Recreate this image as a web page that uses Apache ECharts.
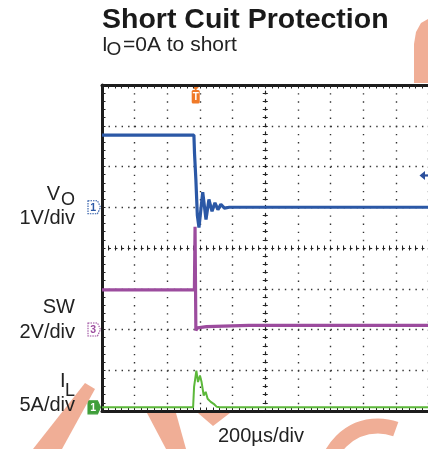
<!DOCTYPE html>
<html><head><meta charset="utf-8">
<script src="https://cdn.jsdelivr.net/npm/echarts@6/dist/echarts.min.js"></script>
<style>html,body{margin:0;padding:0;background:#fff}#c{width:428px;height:449px}</style>
</head><body><div id="c"></div>
<script>
// ---- data (time in µs, 200 µs/div) ----
const timeMin = 0, timeMax = 2000, timeStep = 200;
const divMin = -4, divMax = 4, divStep = 1;

const voTime  = [0, 563, 567, 575, 584, 594, 617, 637, 655, 674, 692, 710, 728, 750, 780, 2000];
const voVolts = [1.77, 1.77, 1.30, 0.68, -0.20, -0.50, 0.37, -0.30, 0.19, -0.10, 0.11, -0.06, 0.07, -0.02, 0, 0];

const swTime  = [0, 566, 568, 570, 575, 585, 640, 900, 2000];
const swVolts = [1.94, 1.94, 3.60, 5.04, -0.05, 0.08, 0.14, 0.20, 0.20];

const ilTime  = [0, 558, 564, 578, 588, 600, 610, 623, 635, 647, 666, 684, 703, 721, 2000];
const ilAmps  = [0, 0, 2.5, 4.5, 3.1, 3.9, 3.1, 1.45, 1.9, 1.05, 0.67, 0.43, 0.06, 0, 0];

// channel settings: units per division and ground position (divisions from centre)
const voPerDiv = 1, voGround = 1;
const swPerDiv = 2, swGround = -2;
const ilPerDiv = 5, ilGround = -3.91;
const triggerTime = 574;       // µs
const triggerLevel = 0.78;     // V on CH1

// ---- chart ----
const FONT = "'Liberation Sans', Arial, Helvetica, sans-serif";
const toDiv = (ts, vs, perDiv, ground) => ts.map((t, i) => [t, vs[i] / perDiv + ground]);

const chart = echarts.init(document.getElementById('c'), null, {renderer: 'canvas'});
const GRID = {left: 102, top: 85, width: 326.5, height: 326};
const hPeriod = GRID.width / 10 / 5, vPeriod = GRID.height / 8 / 5;
const dotColor = '#333';
const borderStyle = {color: '#1c1c1c', width: 3};
const WM = '#f0ae96';

function xAx(extra) {
  return Object.assign({
    type: 'value', min: timeMin, max: timeMax, interval: timeStep,
    axisLabel: {show: false}, splitLine: {show: false},
    axisLine: {show: true, onZero: false, lineStyle: borderStyle},
    axisTick: {show: true, inside: true, length: 3.5, lineStyle: {color: '#222', width: 1}},
    minorTick: {show: true, splitNumber: 5, length: 3.5, lineStyle: {color: '#222', width: 1}}
  }, extra);
}
function yAx(extra) {
  return Object.assign({
    type: 'value', min: divMin, max: divMax, interval: divStep,
    axisLabel: {show: false}, splitLine: {show: false},
    axisLine: {show: true, onZero: false, lineStyle: borderStyle},
    axisTick: {show: true, inside: true, length: 3.5, lineStyle: {color: '#222', width: 1}},
    minorTick: {show: true, splitNumber: 5, length: 3.5, lineStyle: {color: '#222', width: 1}}
  }, extra);
}
const centreH = {color: '#222', width: 1.2, type: [2, hPeriod - 2]};
const centreV = {color: '#222', width: 1.2, type: [2, vPeriod - 2]};

chart.setOption({
  animation: false,
  backgroundColor: '#fff',
  grid: Object.assign({outerBoundsMode: 'none', containLabel: false}, GRID),
  xAxis: [
    xAx({position: 'bottom', splitLine: {show: true, lineStyle: {color: dotColor, width: 1.4, type: [1.4, vPeriod - 1.4]}}}),
    xAx({position: 'top'}),
    xAx({position: 'bottom', offset: -GRID.height / 2, axisLine: {show: true, onZero: false, lineStyle: centreH},
         axisTick: {show: true, inside: true, length: 2.5, lineStyle: {color: '#222'}}, minorTick: {show: true, splitNumber: 5, length: 2.5, lineStyle: {color: '#222'}}}),
    xAx({position: 'bottom', offset: -GRID.height / 2, axisLine: {show: false},
         axisTick: {show: true, inside: false, length: 2.5, lineStyle: {color: '#222'}}, minorTick: {show: true, splitNumber: 5, length: 2.5, lineStyle: {color: '#222'}}})
  ],
  yAxis: [
    yAx({position: 'left', splitLine: {show: true, lineStyle: {color: dotColor, width: 1.4, type: [1.4, hPeriod - 1.4]}}}),
    yAx({position: 'left', offset: -GRID.width / 2, axisLine: {show: true, onZero: false, lineStyle: centreV},
         axisTick: {show: true, inside: true, length: 2.5, lineStyle: {color: '#222'}}, minorTick: {show: true, splitNumber: 5, length: 2.5, lineStyle: {color: '#222'}}}),
    yAx({position: 'left', offset: -GRID.width / 2, axisLine: {show: false},
         axisTick: {show: true, inside: false, length: 2.5, lineStyle: {color: '#222'}}, minorTick: {show: true, splitNumber: 5, length: 2.5, lineStyle: {color: '#222'}}})
  ],
  series: [
    {name: 'VO', type: 'line', xAxisIndex: 0, yAxisIndex: 0, showSymbol: false, z: 4,
     lineStyle: {color: '#2b58a6', width: 3.2}, data: toDiv(voTime, voVolts, voPerDiv, voGround)},
    {name: 'SW', type: 'line', xAxisIndex: 0, yAxisIndex: 0, showSymbol: false, z: 3,
     lineStyle: {color: '#9c4c9e', width: 3.2}, data: toDiv(swTime, swVolts, swPerDiv, swGround)},
    {name: 'IL', type: 'line', xAxisIndex: 0, yAxisIndex: 0, showSymbol: false, z: 5,
     lineStyle: {color: '#5cb83a', width: 2}, data: toDiv(ilTime, ilAmps, ilPerDiv, ilGround)}
  ]
});

function px(t, d) { return chart.convertToPixel({xAxisIndex: 0, yAxisIndex: 0}, [t, d]); }
function txt(text, x, y, size, opts) {
  return {type: 'text', z: 50, style: Object.assign({text: text, x: x, y: y, fill: '#222',
    font: (opts && opts.bold ? 'bold ' : '') + size + 'px ' + FONT, align: 'left', verticalAlign: 'middle'}, opts && opts.style)};
}
function chMarker(label, d, color, filled) {
  const p = px(timeMin, d);
  const x0 = p[0] - 14, y = p[1];
  return {type: 'group', z: 60, children: [
    {type: 'polygon', shape: {points: [[x0, y - 6.5], [x0 + 9.5, y - 6.5], [x0 + 12.5, y], [x0 + 9.5, y + 6.5], [x0, y + 6.5]]},
     style: {fill: filled ? color : '#fff', stroke: color, lineWidth: 1.1, lineDash: filled ? null : [1.5, 1]}},
    {type: 'text', style: {text: label, x: x0 + 5.2, y: y + 0.5, fill: filled ? '#fff' : color,
     font: 'bold 10.5px ' + FONT, align: 'center', verticalAlign: 'middle'}}
  ]};
}
const tp = px(triggerTime, divMax);
const tl = px(timeMax, triggerLevel / voPerDiv + voGround);
const trigColor = '#f07a28';

chart.setOption({graphic: [
  // watermark fragments (decoration outside the plot)
  {type: 'polygon', z: 1, shape: {points: [[428, 19], [421, 23], [416, 32], [414, 44], [414, 83], [428, 83]]}, style: {fill: WM}},
  {type: 'polygon', z: 1, shape: {points: [[85, 383], [95, 389], [62, 449], [33, 449]]}, style: {fill: WM}},
  {type: 'polygon', z: 1, shape: {points: [[147, 413], [176, 413], [186, 449], [166, 449]]}, style: {fill: WM}},
  {type: 'polygon', z: 1, shape: {points: [[198, 413], [230, 413], [213, 426]]}, style: {fill: WM}},
  {type: 'arc', z: 1, shape: {cx: 378, cy: 478, r: 52, startAngle: Math.PI, endAngle: Math.PI * 290 / 180}, style: {stroke: WM, lineWidth: 15, fill: null}},

  txt('Short Cuit Protection', 102, 20.5, 28.5, {bold: true, style: {fill: '#1a1a1a'}}),
  txt('I', 102, 45, 20.5), txt('O', 106.5, 49.5, 19), txt('=0A to short', 123, 45, 21),
  txt('V', 60, 194, 20, {style: {align: 'right'}}), txt('O', 75, 200, 18, {style: {align: 'right'}}),
  txt('1V/div', 75, 218.5, 20, {style: {align: 'right'}}),
  txt('SW', 75, 307, 20, {style: {align: 'right'}}),
  txt('2V/div', 75, 332.5, 20, {style: {align: 'right'}}),
  txt('I', 65.5, 381, 20, {style: {align: 'right'}}), txt('L', 75, 391.5, 18, {style: {align: 'right'}}),
  txt('5A/div', 75, 405.5, 20, {style: {align: 'right'}}),
  txt('200µs/div', 261, 436, 20, {style: {align: 'center'}}),
  chMarker('1', voGround, '#2b58a6', false),
  chMarker('3', swGround, '#9c4c9e', false),
  chMarker('1', ilGround, '#3f9e3a', true),
  {type: 'group', z: 60, children: [
    {type: 'polygon', shape: {points: [[tp[0] - 4, tp[1] + 1], [tp[0] + 4, tp[1] + 1], [tp[0], tp[1] + 5.5]]}, style: {fill: trigColor}},
    {type: 'rect', shape: {x: tp[0] - 4, y: tp[1] + 5, width: 8, height: 13.5, r: 1.5}, style: {fill: trigColor}},
    {type: 'text', style: {text: 'T', x: tp[0], y: tp[1] + 12, fill: '#fff', font: 'bold 10px ' + FONT, align: 'center', verticalAlign: 'middle'}}
  ]},
  {type: 'group', z: 60, children: [
    {type: 'polygon', shape: {points: [[tl[0] - 9, tl[1]], [tl[0] - 3.5, tl[1] - 4.5], [tl[0] - 3.5, tl[1] + 4.5]]}, style: {fill: '#2b4f9c'}},
    {type: 'line', shape: {x1: tl[0] - 5, y1: tl[1], x2: tl[0] + 1, y2: tl[1]}, style: {stroke: '#2b4f9c', lineWidth: 2.2}}
  ]}
]});
</script>
</body></html>
